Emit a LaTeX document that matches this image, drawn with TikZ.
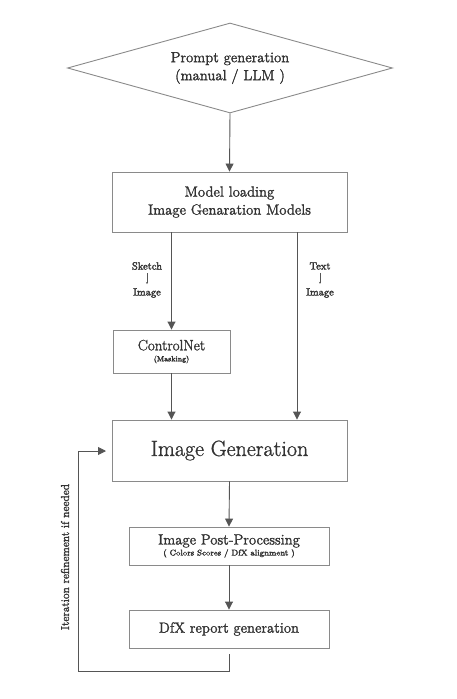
\documentclass[tikz,border=0pt]{standalone}
\usetikzlibrary{shapes.geometric,arrows.meta}
\definecolor{txt}{HTML}{333333}
\definecolor{ln}{HTML}{555555}
\definecolor{bx}{HTML}{8A8A8A}
\newcommand\fkb{\special{pdf:literal direct 2 Tr 0.25 w}}
\begin{document}
\begin{tikzpicture}[x=1pt,y=-1pt,
  box/.style={draw=bx,line width=0.9pt,text=txt,inner sep=0pt},
  conn/.style={draw=ln,line width=0.9pt,-{Triangle[length=8pt,width=8pt]}},
  lbl/.style={text=txt,inner sep=0pt,font=\fontsize{10.5}{11}\selectfont\fkb},
  main/.style={font=\fontsize{14.7}{18}\selectfont\fkb}]
\useasboundingbox (0,0) rectangle (456,699);
% diamond
\node[box,diamond,minimum width=325pt,minimum height=90pt,aspect=3.6] (prompt) at (230,68) {};
\node[text=txt,align=center,main,inner sep=0pt] (ptext) at (230,68) {Prompt generation\\(manual / LLM )};
% model loading
\node[box,minimum width=235pt,minimum height=60pt,main,align=center] (model) at (229.5,202) {Model loading\\Image Genaration Models};
% controlnet
\node[box,minimum width=117pt,minimum height=43pt,align=center,text=txt] (cnet) at (171.5,351.5)
  {{\fontsize{15}{16}\selectfont\fkb ControlNet}\\[-1pt]{\fontsize{7.5}{8}\selectfont\fkb (Masking)}};
% image generation
\node[box,minimum width=235pt,minimum height=61pt,font=\fontsize{22}{24}\selectfont\fkb] (gen) at (229.5,450.5) {Image Generation};
% post processing
\node[box,minimum width=200pt,minimum height=38pt,align=center] (post) at (229,546)
  {{\fontsize{14.7}{16}\selectfont\fkb Image Post-Processing}\\[-1pt]{\fontsize{8.3}{9}\selectfont\fkb ( Colors Scores / DfX alignment )}};
% dfx report
\node[box,minimum width=200pt,minimum height=38pt,main] (dfx) at (229,629) {DfX report generation};
% arrows
\draw[conn] (prompt.south) -- (model.north);
\draw[conn] (model.south -| cnet.north) -- (cnet.north);
\draw[conn] (cnet.south) -- (gen.north -| cnet.south);
\coordinate (rtop) at (297,232);
\draw[conn] (rtop) -- (gen.north -| rtop);
\draw[conn] (gen.south) -- (post.north);
\draw[conn] (post.south) -- (dfx.north);
% side labels
\node[lbl] (sk) at (147,266) {Sketch};
\node[lbl] (skimg) at (147,293) {Image};
\draw[ln,line width=0.35pt,-{Stealth[length=2pt,width=2pt]}] (sk.south) ++(0,3) -- ++(0,11);
\node[lbl] (tx) at (320,266) {Text};
\node[lbl] (tximg) at (320,293) {Image};
\draw[ln,line width=0.35pt,-{Stealth[length=2pt,width=2pt]}] (tx.south) ++(0,3) -- ++(0,11);
% feedback loop
\coordinate (fb0) at (229,654);
\coordinate (fb1) at (229,671);
\coordinate (fb2) at (78,671);
\coordinate (fb3) at (78,451);
\coordinate (fb4) at (106,451);
\draw[conn] (fb0) -- (fb1) -- (fb2) -- (fb3) -- (fb4);
\node[text=txt,rotate=90,inner sep=0pt,font=\fontsize{11.5}{12}\selectfont\fkb] (iter) at (65,557) {Iteration refinement if needed};
\end{tikzpicture}
\end{document}
